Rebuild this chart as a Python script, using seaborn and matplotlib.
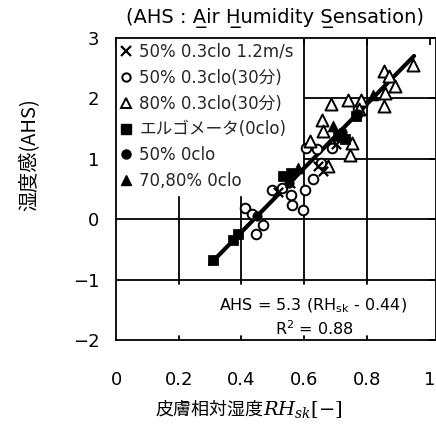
import matplotlib
matplotlib.use("Agg")
import matplotlib.pyplot as plt
import seaborn as sns
import numpy as np
from matplotlib.lines import Line2D

sns.set_theme(style="white")
plt.rcParams['font.family'] = ['DejaVu Sans', 'Noto Sans CJK JP']
plt.rcParams['mathtext.fontset'] = 'dejavusans'

# ---- data ----
cross_x = [0.660, 0.645, 0.555, 0.700, 0.515]
cross_y = [0.80, 0.88, 0.60, 1.25, 0.45]

ocirc_x = [0.411, 0.432, 0.467, 0.446, 0.498, 0.529, 0.559, 0.560, 0.602, 0.597,
           0.607, 0.641, 0.628, 0.654, 0.690, 0.771]
ocirc_y = [0.18, 0.09, -0.10, -0.24, 0.49, 0.52, 0.40, 0.24, 0.49, 0.16,
           1.18, 1.16, 0.67, 0.93, 1.18, 1.82]

otri_x = [0.854, 0.870, 0.889, 0.948, 0.857, 0.854, 0.739, 0.781, 0.776, 0.684,
          0.656, 0.661, 0.617, 0.752, 0.747, 0.677]
otri_y = [2.45, 2.37, 2.21, 2.55, 2.09, 1.87, 1.98, 1.97, 1.82, 1.90,
          1.65, 1.46, 1.29, 1.26, 1.07, 0.88]

sq_x = [0.310, 0.373, 0.390, 0.531, 0.557, 0.708, 0.729, 0.766]
sq_y = [-0.68, -0.34, -0.24, 0.71, 0.77, 1.37, 1.32, 1.71]

fcirc_x = [0.450, 0.550, 0.720, 0.770]
fcirc_y = [0.05, 0.60, 1.45, 1.75]

ftri_x = [0.693, 0.820, 0.580]
ftri_y = [1.54, 2.05, 0.85]

fit_slope = 5.3
fit_x0 = 0.44
fit_range = [0.30, 0.95]

legend_labels = ["50% 0.3clo 1.2m/s", "50% 0.3clo(30分)", "80% 0.3clo(30分)",
                 "エルゴメータ(0clo)", "50% 0clo", "70,80% 0clo"]

xticks = [0, 0.2, 0.4, 0.6, 0.8, 1]
xticklabels = ["0", "0.2", "0.4", "0.6", "0.8", "1"]
yticks = [-2, -1, 0, 1, 2, 3]
yticklabels = ["−2", "−1", "0", "1", "2", "3"]

# ---- figure ----
fig = plt.figure(figsize=(4.36, 4.32), dpi=100)
ax = fig.add_axes([116/436, 1-340/432, 320/436, 302/432])
XMAX = 1.02
ax.set_xlim(0, XMAX)
ax.set_ylim(-2, 3)

# grid lines (partial)
lc = 'black'
ax.vlines([0.2, 0.4], -1, 0.5, color=lc, lw=1.3, zorder=1)
ax.vlines([0.6, 0.8], -1, 3, color=lc, lw=1.3, zorder=1)
ax.hlines([1, 2], 0.6, XMAX, color=lc, lw=1.3, zorder=1)
ax.hlines([0, -1], 0, XMAX, color=lc, lw=1.3, zorder=1)
for xv in [0.2, 0.4, 0.6, 0.8]:
    ax.plot([xv, xv], [-1, -1.08], color=lc, lw=1.3, zorder=1)
    ax.plot([xv, xv], [-2, -1.93], color=lc, lw=1.3, zorder=1)

# regression line
fx = np.array(fit_range)
fy = fit_slope * (fx - fit_x0)
sns.lineplot(x=fx, y=fy, ax=ax, color='black', lw=3.0, zorder=3)

kw = dict(ax=ax, zorder=4, legend=False)
sns.scatterplot(x=ocirc_x, y=ocirc_y, marker='o', s=48, facecolor='white',
                edgecolor='black', linewidth=1.4, **kw)
sns.scatterplot(x=otri_x, y=otri_y, marker='^', s=75, facecolor='white',
                edgecolor='black', linewidth=1.4, **kw)
sns.scatterplot(x=cross_x, y=cross_y, marker='x', s=45, color='black',
                linewidth=1.6, **kw)
sns.scatterplot(x=sq_x, y=sq_y, marker='s', s=45, color='black',
                edgecolor='black', **kw)
sns.scatterplot(x=fcirc_x, y=fcirc_y, marker='o', s=45, color='black',
                edgecolor='black', **kw)
sns.scatterplot(x=ftri_x, y=ftri_y, marker='^', s=60, color='black',
                edgecolor='black', **kw)

for s in ax.spines.values():
    s.set_color('black')
    s.set_linewidth(1.3)

ax.set_xticks(xticks)
ax.set_xticklabels(xticklabels)
ax.set_yticks(yticks)
ax.set_yticklabels(yticklabels)
ax.tick_params(axis='both', direction='in', length=5, width=1.3, color='black',
               labelsize=13, labelcolor='black', top=True, right=True)
ax.tick_params(axis='x', pad=22)
ax.tick_params(axis='y', pad=12)

# legend
handles = [
    Line2D([], [], ls='', marker='x', ms=7, mew=1.6, color='black'),
    Line2D([], [], ls='', marker='o', ms=6, mfc='white', mec='black', mew=1.4),
    Line2D([], [], ls='', marker='^', ms=7, mfc='white', mec='black', mew=1.4),
    Line2D([], [], ls='', marker='s', ms=6.5, color='black'),
    Line2D([], [], ls='', marker='o', ms=6.5, color='black'),
    Line2D([], [], ls='', marker='^', ms=7, color='black'),
]
leg = ax.legend(handles, legend_labels, loc='upper left', bbox_to_anchor=(0.0, 1.0),
                frameon=True, handlelength=0.6, handletextpad=0.5,
                labelspacing=0.47, borderpad=0.3, borderaxespad=0.0,
                prop={'family': ['DejaVu Sans', 'Noto Sans CJK JP'], 'size': 12})
leg.get_frame().set_edgecolor('white')
leg.get_frame().set_facecolor('white')
leg.get_frame().set_alpha(1.0)
leg.get_frame().set_boxstyle('square', pad=0)
leg.set_zorder(2)

# equation box text
ax.text(0.628, -1.44, "AHS = 5.3 (RH$_{\\mathregular{sk}}$ - 0.44)", ha='center',
        va='center', fontsize=11.5, color='black', zorder=6)
ax.text(0.632, -1.82, "R$^{\\mathregular{2}}$ = 0.88", ha='center', va='center',
        fontsize=11.5, color='black', zorder=6)

# title
fig.text(275/436, 1-18/432, "(AHS : A\u0332ir H\u0332umidity S\u0332ensation)",
         ha='center', va='center', fontsize=14, color='black')

# y label
fig.text(30/436, 1-155/432, "湿度感(AHS)", rotation=90, ha='center', va='center',
         fontsize=14.5, color='black', family=['Noto Sans CJK JP', 'DejaVu Sans'])

# x label
fig.text(263/436, 1-410/432, "皮膚相対湿度",
         ha='right', va='center', fontsize=13, color='black',
         family=['Noto Sans CJK JP', 'DejaVu Sans'])
fig.text(263/436, 1-410/432, "$\\mathit{RH_{sk}}$[−]",
         ha='left', va='center', fontsize=14, color='black', family='DejaVu Serif',
         math_fontfamily='dejavuserif')

fig.savefig("out.png", dpi=100)
